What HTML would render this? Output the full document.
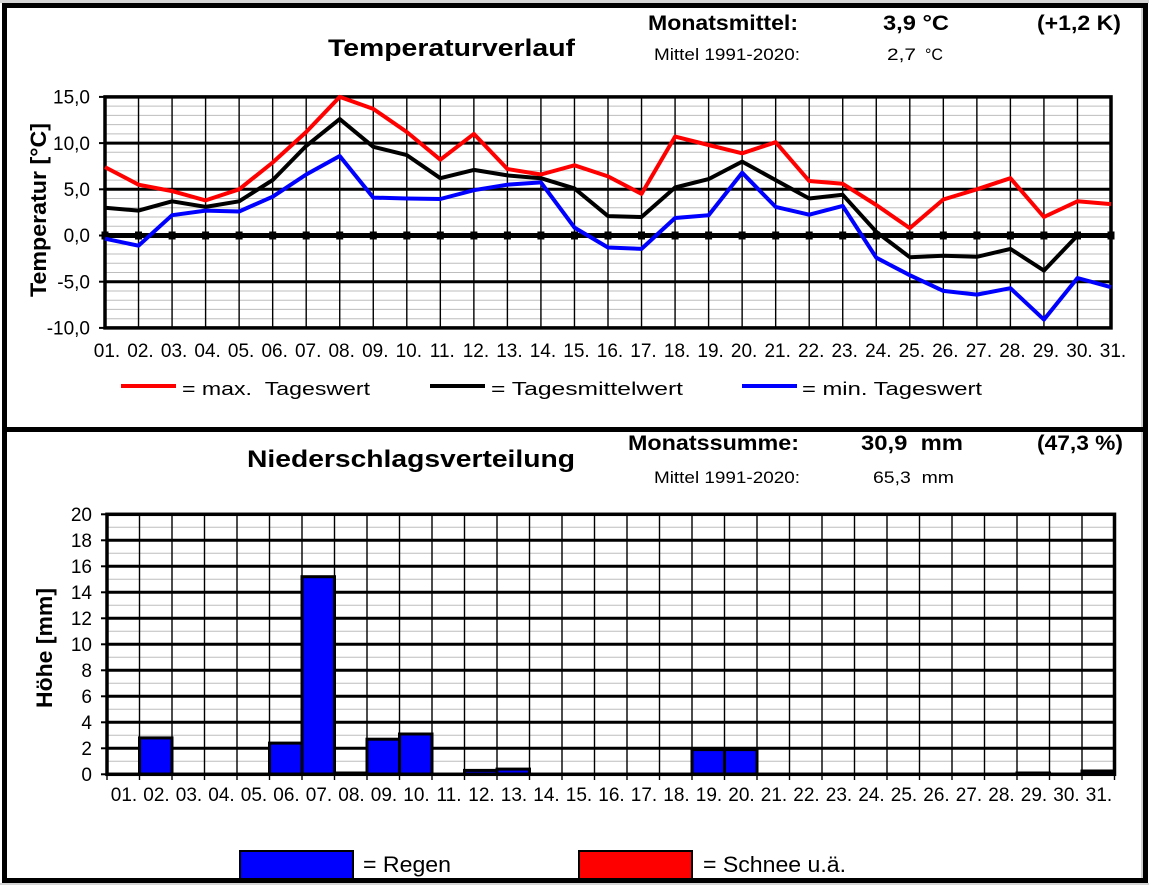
<!DOCTYPE html>
<html><head><meta charset="utf-8"><style>
html,body{margin:0;padding:0;background:#fff;}
svg{display:block;font-family:"Liberation Sans",Arial,sans-serif;}
</style></head><body>
<svg width="1149" height="885" viewBox="0 0 1149 885" xmlns="http://www.w3.org/2000/svg">
<rect x="0" y="0" width="1149" height="885" fill="#fff"/>
<rect x="0" y="0" width="1149" height="3" fill="#d4d4d4"/>
<rect x="0" y="883" width="1149" height="2" fill="#d4d4d4"/>
<rect x="1141" y="3" width="2" height="880" fill="#cfcfcf"/>
<!-- frame -->
<rect x="4.5" y="5.5" width="1141" height="875" fill="none" stroke="#000" stroke-width="5"/>
<line x1="2" y1="429.5" x2="1148" y2="429.5" stroke="#000" stroke-width="5"/>

<!-- header top -->
<g font-weight="bold" font-size="21">
<text x="648" y="30" textLength="150" lengthAdjust="spacingAndGlyphs">Monatsmittel:</text>
<text x="883" y="30" textLength="66" lengthAdjust="spacingAndGlyphs">3,9 °C</text>
<text x="1037" y="30" textLength="84" lengthAdjust="spacingAndGlyphs">(+1,2 K)</text>
</g>
<text x="328" y="56" font-weight="bold" font-size="24" textLength="247" lengthAdjust="spacingAndGlyphs">Temperaturverlauf</text>
<g font-size="17">
<text x="654" y="60" textLength="146" lengthAdjust="spacingAndGlyphs">Mittel 1991-2020:</text>
<text x="887" y="60" textLength="29" lengthAdjust="spacingAndGlyphs">2,7</text>
<text x="925" y="60" textLength="18" lengthAdjust="spacingAndGlyphs">°C</text>
</g>

<!-- temperature plot grid -->
<g stroke="#bdbdbd" stroke-width="1">
<line x1="105" x2="1111" y1="106.1" y2="106.1"/><line x1="105" x2="1111" y1="115.4" y2="115.4"/>
<line x1="105" x2="1111" y1="124.6" y2="124.6"/><line x1="105" x2="1111" y1="133.9" y2="133.9"/>
<line x1="105" x2="1111" y1="152.3" y2="152.3"/><line x1="105" x2="1111" y1="161.6" y2="161.6"/>
<line x1="105" x2="1111" y1="170.8" y2="170.8"/><line x1="105" x2="1111" y1="180.1" y2="180.1"/>
<line x1="105" x2="1111" y1="198.5" y2="198.5"/><line x1="105" x2="1111" y1="207.8" y2="207.8"/>
<line x1="105" x2="1111" y1="217.0" y2="217.0"/><line x1="105" x2="1111" y1="226.3" y2="226.3"/>
<line x1="105" x2="1111" y1="244.7" y2="244.7"/><line x1="105" x2="1111" y1="254.0" y2="254.0"/>
<line x1="105" x2="1111" y1="263.2" y2="263.2"/><line x1="105" x2="1111" y1="272.5" y2="272.5"/>
<line x1="105" x2="1111" y1="291.0" y2="291.0"/><line x1="105" x2="1111" y1="300.2" y2="300.2"/>
<line x1="105" x2="1111" y1="309.4" y2="309.4"/><line x1="105" x2="1111" y1="318.7" y2="318.7"/>
</g>
<g stroke="#000" stroke-width="1.4">
<line x1="138.53" x2="138.53" y1="97" y2="328"/><line x1="172.07" x2="172.07" y1="97" y2="328"/>
<line x1="205.6" x2="205.6" y1="97" y2="328"/><line x1="239.13" x2="239.13" y1="97" y2="328"/>
<line x1="272.67" x2="272.67" y1="97" y2="328"/><line x1="306.2" x2="306.2" y1="97" y2="328"/>
<line x1="339.73" x2="339.73" y1="97" y2="328"/><line x1="373.27" x2="373.27" y1="97" y2="328"/>
<line x1="406.8" x2="406.8" y1="97" y2="328"/><line x1="440.33" x2="440.33" y1="97" y2="328"/>
<line x1="473.87" x2="473.87" y1="97" y2="328"/><line x1="507.4" x2="507.4" y1="97" y2="328"/>
<line x1="540.93" x2="540.93" y1="97" y2="328"/><line x1="574.47" x2="574.47" y1="97" y2="328"/>
<line x1="608" x2="608" y1="97" y2="328"/><line x1="641.53" x2="641.53" y1="97" y2="328"/>
<line x1="675.07" x2="675.07" y1="97" y2="328"/><line x1="708.6" x2="708.6" y1="97" y2="328"/>
<line x1="742.13" x2="742.13" y1="97" y2="328"/><line x1="775.67" x2="775.67" y1="97" y2="328"/>
<line x1="809.2" x2="809.2" y1="97" y2="328"/><line x1="842.73" x2="842.73" y1="97" y2="328"/>
<line x1="876.27" x2="876.27" y1="97" y2="328"/><line x1="909.8" x2="909.8" y1="97" y2="328"/>
<line x1="943.33" x2="943.33" y1="97" y2="328"/><line x1="976.87" x2="976.87" y1="97" y2="328"/>
<line x1="1010.4" x2="1010.4" y1="97" y2="328"/><line x1="1043.93" x2="1043.93" y1="97" y2="328"/>
<line x1="1077.47" x2="1077.47" y1="97" y2="328"/>
</g>
<g stroke="#000" stroke-width="3">
<line x1="105" x2="1111" y1="143.1" y2="143.1"/>
<line x1="105" x2="1111" y1="189.3" y2="189.3"/>
<line x1="105" x2="1111" y1="281.7" y2="281.7"/>
</g>
<g stroke="#000" stroke-width="2">
<line x1="99" x2="105" y1="96.9" y2="96.9"/><line x1="99" x2="105" y1="143.1" y2="143.1"/>
<line x1="99" x2="105" y1="189.3" y2="189.3"/><line x1="99" x2="105" y1="235.5" y2="235.5"/>
<line x1="99" x2="105" y1="281.7" y2="281.7"/><line x1="99" x2="105" y1="327.9" y2="327.9"/>
</g>
<rect x="105" y="96.9" width="1006" height="231" fill="none" stroke="#000" stroke-width="3.5"/>
<!-- zero line with markers -->
<line x1="105" x2="1111" y1="235.5" y2="235.5" stroke="#000" stroke-width="5"/>
<g fill="#000">
<rect x="101.5" y="231.5" width="7" height="8"/><rect x="135" y="231.5" width="7" height="8"/>
<rect x="168.6" y="231.5" width="7" height="8"/><rect x="202.1" y="231.5" width="7" height="8"/>
<rect x="235.6" y="231.5" width="7" height="8"/><rect x="269.2" y="231.5" width="7" height="8"/>
<rect x="302.7" y="231.5" width="7" height="8"/><rect x="336.2" y="231.5" width="7" height="8"/>
<rect x="369.8" y="231.5" width="7" height="8"/><rect x="403.3" y="231.5" width="7" height="8"/>
<rect x="436.8" y="231.5" width="7" height="8"/><rect x="470.4" y="231.5" width="7" height="8"/>
<rect x="503.9" y="231.5" width="7" height="8"/><rect x="537.4" y="231.5" width="7" height="8"/>
<rect x="571" y="231.5" width="7" height="8"/><rect x="604.5" y="231.5" width="7" height="8"/>
<rect x="638" y="231.5" width="7" height="8"/><rect x="671.6" y="231.5" width="7" height="8"/>
<rect x="705.1" y="231.5" width="7" height="8"/><rect x="738.6" y="231.5" width="7" height="8"/>
<rect x="772.2" y="231.5" width="7" height="8"/><rect x="805.7" y="231.5" width="7" height="8"/>
<rect x="839.2" y="231.5" width="7" height="8"/><rect x="872.8" y="231.5" width="7" height="8"/>
<rect x="906.3" y="231.5" width="7" height="8"/><rect x="939.8" y="231.5" width="7" height="8"/>
<rect x="973.4" y="231.5" width="7" height="8"/><rect x="1006.9" y="231.5" width="7" height="8"/>
<rect x="1040.4" y="231.5" width="7" height="8"/><rect x="1074" y="231.5" width="7" height="8"/>
<rect x="1107.5" y="231.5" width="7" height="8"/>
</g>
<!-- series -->
<g fill="none" stroke-width="4" stroke-linejoin="round" stroke-linecap="butt">
<polyline stroke="#ff0000" points="105,167.1 138.53,184.7 172.07,191.1 205.6,200.4 239.13,189.3 272.67,162.5 306.2,132.0 339.73,96.9 373.27,108.9 406.8,132.0 440.33,159.7 473.87,133.9 507.4,169.0 540.93,174.5 574.47,165.3 608,176.4 641.53,193.9 675.07,136.6 708.6,145.0 742.13,153.3 775.67,142.2 809.2,181.0 842.73,183.8 876.27,205.0 909.8,228.1 943.33,199.5 976.87,189.3 1010.4,178.2 1043.93,217.0 1077.47,201.3 1111,204.1"/>
<polyline stroke="#000000" points="105,207.8 138.53,210.6 172.07,201.3 205.6,206.9 239.13,201.3 272.67,180.1 306.2,145.9 339.73,119.1 373.27,146.8 406.8,155.1 440.33,178.2 473.87,169.9 507.4,175.4 540.93,178.2 574.47,188.4 608,216.1 641.53,217.0 675.07,187.5 708.6,179.1 742.13,161.6 775.67,180.1 809.2,198.5 842.73,194.8 876.27,231.8 909.8,257.2 943.33,255.8 976.87,256.8 1010.4,248.9 1043.93,270.6 1077.47,235.5 1111,235.5"/>
<polyline stroke="#0000ff" points="105,238.7 138.53,245.7 172.07,215.2 205.6,210.6 239.13,211.5 272.67,196.7 306.2,174.5 339.73,156.0 373.27,197.6 406.8,198.5 440.33,199.0 473.87,190.2 507.4,184.7 540.93,182.4 574.47,227.6 608,247.5 641.53,248.9 675.07,218.0 708.6,215.2 742.13,172.7 775.67,206.9 809.2,214.7 842.73,205.9 876.27,257.7 909.8,275.2 943.33,290.9 976.87,294.6 1010.4,288.2 1043.93,319.6 1077.47,278.0 1111,287.2"/>
</g>
<!-- temp y labels -->
<g font-size="19" text-anchor="end">
<text x="90" y="103.6">15,0</text>
<text x="90" y="149.8">10,0</text>
<text x="90" y="196">5,0</text>
<text x="90" y="242.2">0,0</text>
<text x="90" y="288.4">-5,0</text>
<text x="90" y="334.6">-10,0</text>
</g>
<text transform="translate(46,210) rotate(-90)" text-anchor="middle" font-weight="bold" font-size="22" textLength="174" lengthAdjust="spacingAndGlyphs">Temperatur [°C]</text>
<!-- temp x labels -->
<g font-size="19" text-anchor="middle">
<text x="107" y="357">01.</text><text x="140.5" y="357">02.</text><text x="174.1" y="357">03.</text>
<text x="207.6" y="357">04.</text><text x="241.1" y="357">05.</text><text x="274.7" y="357">06.</text>
<text x="308.2" y="357">07.</text><text x="341.7" y="357">08.</text><text x="375.3" y="357">09.</text>
<text x="408.8" y="357">10.</text><text x="442.3" y="357">11.</text><text x="475.9" y="357">12.</text>
<text x="509.4" y="357">13.</text><text x="542.9" y="357">14.</text><text x="576.5" y="357">15.</text>
<text x="610" y="357">16.</text><text x="643.5" y="357">17.</text><text x="677.1" y="357">18.</text>
<text x="710.6" y="357">19.</text><text x="744.1" y="357">20.</text><text x="777.7" y="357">21.</text>
<text x="811.2" y="357">22.</text><text x="844.7" y="357">23.</text><text x="878.3" y="357">24.</text>
<text x="911.8" y="357">25.</text><text x="945.3" y="357">26.</text><text x="978.9" y="357">27.</text>
<text x="1012.4" y="357">28.</text><text x="1045.9" y="357">29.</text><text x="1079.5" y="357">30.</text>
<text x="1113" y="357">31.</text>
</g>
<!-- temp legend -->
<g stroke-width="4">
<line x1="121" x2="176" y1="386" y2="386" stroke="#ff0000"/>
<line x1="430" x2="485" y1="386" y2="386" stroke="#000"/>
<line x1="742" x2="797" y1="386" y2="386" stroke="#0000ff"/>
</g>
<g font-size="18">
<text x="182" y="395" textLength="188" lengthAdjust="spacingAndGlyphs">= max.&#160;&#160;Tageswert</text>
<text x="491" y="395" textLength="192" lengthAdjust="spacingAndGlyphs">= Tagesmittelwert</text>
<text x="802" y="395" textLength="180" lengthAdjust="spacingAndGlyphs">= min. Tageswert</text>
</g>

<!-- precip header -->
<g font-weight="bold" font-size="21">
<text x="628" y="450" textLength="171" lengthAdjust="spacingAndGlyphs">Monatssumme:</text>
<text x="861" y="450" textLength="102" lengthAdjust="spacingAndGlyphs">30,9&#160;&#160;mm</text>
<text x="1037" y="450" textLength="86" lengthAdjust="spacingAndGlyphs">(47,3 %)</text>
</g>
<text x="247" y="467" font-weight="bold" font-size="24" textLength="328" lengthAdjust="spacingAndGlyphs">Niederschlagsverteilung</text>
<g font-size="17">
<text x="654" y="483" textLength="146" lengthAdjust="spacingAndGlyphs">Mittel 1991-2020:</text>
<text x="873" y="483" textLength="81" lengthAdjust="spacingAndGlyphs">65,3&#160;&#160;mm</text>
</g>

<!-- precip grid -->
<g stroke="#bdbdbd" stroke-width="1">
<line x1="107" x2="1114.5" y1="761.3" y2="761.3"/><line x1="107" x2="1114.5" y1="735.3" y2="735.3"/>
<line x1="107" x2="1114.5" y1="709.3" y2="709.3"/><line x1="107" x2="1114.5" y1="683.3" y2="683.3"/>
<line x1="107" x2="1114.5" y1="657.3" y2="657.3"/><line x1="107" x2="1114.5" y1="631.3" y2="631.3"/>
<line x1="107" x2="1114.5" y1="605.3" y2="605.3"/><line x1="107" x2="1114.5" y1="579.3" y2="579.3"/>
<line x1="107" x2="1114.5" y1="553.3" y2="553.3"/><line x1="107" x2="1114.5" y1="527.3" y2="527.3"/>
</g>
<g stroke="#000" stroke-width="1.4">
<line x1="139.5" x2="139.5" y1="514" y2="780"/><line x1="172" x2="172" y1="514" y2="780"/>
<line x1="204.5" x2="204.5" y1="514" y2="780"/><line x1="237" x2="237" y1="514" y2="780"/>
<line x1="269.5" x2="269.5" y1="514" y2="780"/><line x1="302" x2="302" y1="514" y2="780"/>
<line x1="334.5" x2="334.5" y1="514" y2="780"/><line x1="367" x2="367" y1="514" y2="780"/>
<line x1="399.5" x2="399.5" y1="514" y2="780"/><line x1="432" x2="432" y1="514" y2="780"/>
<line x1="464.5" x2="464.5" y1="514" y2="780"/><line x1="497" x2="497" y1="514" y2="780"/>
<line x1="529.5" x2="529.5" y1="514" y2="780"/><line x1="562" x2="562" y1="514" y2="780"/>
<line x1="594.5" x2="594.5" y1="514" y2="780"/><line x1="627" x2="627" y1="514" y2="780"/>
<line x1="659.5" x2="659.5" y1="514" y2="780"/><line x1="692" x2="692" y1="514" y2="780"/>
<line x1="724.5" x2="724.5" y1="514" y2="780"/><line x1="757" x2="757" y1="514" y2="780"/>
<line x1="789.5" x2="789.5" y1="514" y2="780"/><line x1="822" x2="822" y1="514" y2="780"/>
<line x1="854.5" x2="854.5" y1="514" y2="780"/><line x1="887" x2="887" y1="514" y2="780"/>
<line x1="919.5" x2="919.5" y1="514" y2="780"/><line x1="952" x2="952" y1="514" y2="780"/>
<line x1="984.5" x2="984.5" y1="514" y2="780"/><line x1="1017" x2="1017" y1="514" y2="780"/>
<line x1="1049.5" x2="1049.5" y1="514" y2="780"/><line x1="1082" x2="1082" y1="514" y2="780"/>
<line x1="107" x2="107" y1="774" y2="780"/><line x1="1114.5" x2="1114.5" y1="774" y2="780"/>
</g>
<g stroke="#000" stroke-width="3">
<line x1="107" x2="1114.5" y1="748.3" y2="748.3"/><line x1="107" x2="1114.5" y1="722.3" y2="722.3"/>
<line x1="107" x2="1114.5" y1="696.3" y2="696.3"/><line x1="107" x2="1114.5" y1="670.3" y2="670.3"/>
<line x1="107" x2="1114.5" y1="644.3" y2="644.3"/><line x1="107" x2="1114.5" y1="618.3" y2="618.3"/>
<line x1="107" x2="1114.5" y1="592.3" y2="592.3"/><line x1="107" x2="1114.5" y1="566.3" y2="566.3"/>
<line x1="107" x2="1114.5" y1="540.3" y2="540.3"/>
</g>
<g stroke="#000" stroke-width="2">
<line x1="101" x2="107" y1="514.3" y2="514.3"/><line x1="101" x2="107" y1="540.3" y2="540.3"/>
<line x1="101" x2="107" y1="566.3" y2="566.3"/><line x1="101" x2="107" y1="592.3" y2="592.3"/>
<line x1="101" x2="107" y1="618.3" y2="618.3"/><line x1="101" x2="107" y1="644.3" y2="644.3"/>
<line x1="101" x2="107" y1="670.3" y2="670.3"/><line x1="101" x2="107" y1="696.3" y2="696.3"/>
<line x1="101" x2="107" y1="722.3" y2="722.3"/><line x1="101" x2="107" y1="748.3" y2="748.3"/>
<line x1="101" x2="107" y1="774.3" y2="774.3"/>
</g>
<!-- bars -->
<g fill="#0000ff" stroke="#000" stroke-width="3">
<rect x="139.5" y="737.9" width="32.5" height="36.4"/>
<rect x="269.5" y="743.1" width="32.5" height="31.2"/>
<rect x="302" y="576.7" width="32.5" height="197.6"/>
<rect x="334.5" y="773.0" width="32.5" height="1.3"/>
<rect x="367" y="739.2" width="32.5" height="35.1"/>
<rect x="399.5" y="734.0" width="32.5" height="40.3"/>
<rect x="464.5" y="770.4" width="32.5" height="3.9"/>
<rect x="497" y="769.1" width="32.5" height="5.2"/>
<rect x="692" y="749.6" width="32.5" height="24.7"/>
<rect x="724.5" y="749.6" width="32.5" height="24.7"/>
<rect x="1017" y="773.0" width="32.5" height="1.3"/>
<rect x="1082" y="771.0" width="32.5" height="3.3"/>
</g>
<rect x="107" y="514.3" width="1007.5" height="260" fill="none" stroke="#000" stroke-width="3.5"/>
<!-- precip y labels -->
<g font-size="19" text-anchor="end">
<text x="92" y="521">20</text><text x="92" y="547">18</text><text x="92" y="573">16</text>
<text x="92" y="599">14</text><text x="92" y="625">12</text><text x="92" y="651">10</text>
<text x="92" y="677">8</text><text x="92" y="703">6</text><text x="92" y="729">4</text>
<text x="92" y="755">2</text><text x="92" y="781">0</text>
</g>
<text transform="translate(52,648) rotate(-90)" text-anchor="middle" font-weight="bold" font-size="22" textLength="120" lengthAdjust="spacingAndGlyphs">Höhe [mm]</text>
<!-- precip x labels -->
<g font-size="19" text-anchor="middle">
<text x="124" y="801">01.</text><text x="156.5" y="801">02.</text><text x="189" y="801">03.</text>
<text x="221.5" y="801">04.</text><text x="254" y="801">05.</text><text x="286.5" y="801">06.</text>
<text x="319" y="801">07.</text><text x="351.5" y="801">08.</text><text x="384" y="801">09.</text>
<text x="416.5" y="801">10.</text><text x="449" y="801">11.</text><text x="481.5" y="801">12.</text>
<text x="514" y="801">13.</text><text x="546.5" y="801">14.</text><text x="579" y="801">15.</text>
<text x="611.5" y="801">16.</text><text x="644" y="801">17.</text><text x="676.5" y="801">18.</text>
<text x="709" y="801">19.</text><text x="741.5" y="801">20.</text><text x="774" y="801">21.</text>
<text x="806.5" y="801">22.</text><text x="839" y="801">23.</text><text x="871.5" y="801">24.</text>
<text x="904" y="801">25.</text><text x="936.5" y="801">26.</text><text x="969" y="801">27.</text>
<text x="1001.5" y="801">28.</text><text x="1034" y="801">29.</text><text x="1066.5" y="801">30.</text>
<text x="1099" y="801">31.</text>
</g>
<!-- precip legend -->
<rect x="240" y="851" width="113" height="28" fill="#0000ff" stroke="#000" stroke-width="2"/>
<rect x="579" y="851" width="113" height="28" fill="#ff0000" stroke="#000" stroke-width="2"/>
<g font-size="22">
<text x="363" y="872" textLength="88" lengthAdjust="spacingAndGlyphs">= Regen</text>
<text x="703" y="872" textLength="143" lengthAdjust="spacingAndGlyphs">= Schnee u.ä.</text>
</g>
</svg>
</body></html>
